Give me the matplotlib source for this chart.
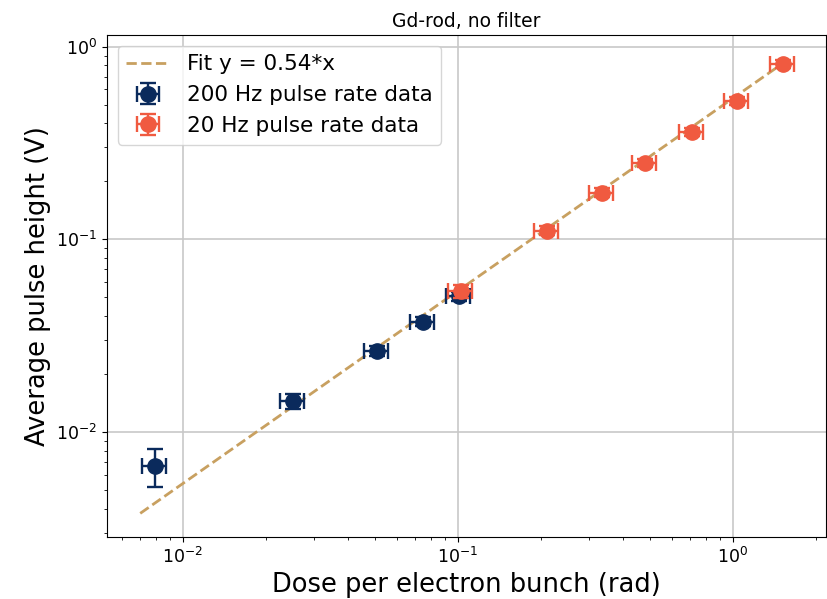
import matplotlib
matplotlib.use('Agg')
import matplotlib.pyplot as plt
import numpy as np

# 200 Hz data
dose200 = [0.0079, 0.0251, 0.0507, 0.0746, 0.101]
ph200 = [0.00666, 0.0145, 0.0264, 0.0373, 0.0506]
ph200_err = [0.0015, 0.0013, 0.0015, 0.002, 0.003]
# 20 Hz data
dose20 = [0.1025, 0.211, 0.334, 0.479, 0.71, 1.034, 1.52]
ph20 = [0.0537, 0.111, 0.175, 0.248, 0.36, 0.524, 0.816]
ph20_err = [0.004, 0.006, 0.009, 0.012, 0.018, 0.026, 0.04]
fit_slope = 0.54
fit_range = [0.007, 1.6]

blue = '#0a2a5c'
red = '#f05a40'
tan = '#c8a060'

fig = plt.figure(figsize=(8.27, 5.99), dpi=100)
ax = fig.add_axes([107/827, 62/599, 719/827, 502/599])

xf = np.logspace(np.log10(fit_range[0]), np.log10(fit_range[1]), 50)
ax.plot(xf, fit_slope*xf, '--', color=tan, lw=2, label='Fit y = 0.54*x', zorder=3)
ax.errorbar(dose200, ph200, xerr=np.array(dose200)*0.1, yerr=ph200_err, fmt='o',
            color=blue, ms=11, capsize=5.5, elinewidth=1.7, capthick=1.7,
            label='200 Hz pulse rate data', zorder=4)
ax.errorbar(dose20, ph20, xerr=np.array(dose20)*0.1, yerr=ph20_err, fmt='o',
            color=red, ms=11, capsize=5.5, elinewidth=1.7, capthick=1.7,
            label='20 Hz pulse rate data', zorder=5)

ax.set_xscale('log')
ax.set_yscale('log')
ax.set_xlim(0.0053, 2.18)
ax.set_ylim(0.00285, 1.15)
ax.grid(True, which='major', color='#c8c8c8', lw=1.2)
ax.set_axisbelow(True)
ax.tick_params(labelsize=12.5)
ax.set_xlabel('Dose per electron bunch (rad)', fontsize=18.5)
ax.set_ylabel('Average pulse height (V)', fontsize=18.5)
ax.set_title('Gd-rod, no filter', fontsize=13.5)
ax.legend(loc='upper left', fontsize=15.5)

fig.savefig('out.png', dpi=100)
